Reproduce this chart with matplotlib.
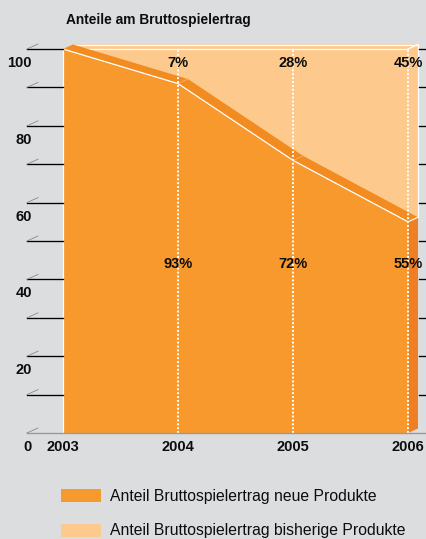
import matplotlib
matplotlib.use("Agg")
import matplotlib.pyplot as plt
from matplotlib.patches import Polygon, Rectangle
import numpy as np

# ---- data ----
years = [2003, 2004, 2005, 2006]
share_new = [100, 91, 71, 55]          # plotted front edge of "neue Produkte" area
labels_new = ["93%", "72%", "55%"]      # printed labels (2004-2006)
labels_old = ["7%", "28%", "45%"]
y_ticks = list(range(0, 101, 10))
y_ticklabels = {0: "0", 20: "20", 40: "40", 60: "60", 80: "80", 100: "100"}
title = "Anteile am Bruttospielertrag"
legend_labels = ["Anteil Bruttospielertrag neue Produkte",
                 "Anteil Bruttospielertrag bisherige Produkte"]

# ---- style ----
BG = "#dcdddf"
DARK = "#f7992d"
DARK_TOP = "#f28b20"
DARK_SIDE = "#ef7f22"
LIGHT = "#fec98c"
FONT = "Liberation Sans"
TXT = "#0d0d0d"

W, H = 426, 539
fig = plt.figure(figsize=(W / 100, H / 100), dpi=100, facecolor=BG)
ax_l, ax_r, ax_t, ax_b = 63, 408, 49, 433
ax = fig.add_axes([ax_l / W, (H - ax_b) / H, (ax_r - ax_l) / W, (ax_b - ax_t) / H])
ax.set_xlim(years[0], years[-1])
ax.set_ylim(0, 100)
ax.axis("off")
ax.set_facecolor(BG)

px_x = (years[-1] - years[0]) / (ax_r - ax_l)
px_y = 100 / (ax_b - ax_t)
dx, dy = 10 * px_x, 4.5 * px_y

x = np.array(years, dtype=float)
yn = np.array(share_new, dtype=float)
top = 100.0

# light (bisherige) block: front face + top + right side
light_pts = [(x[0], top), (x[0] + dx, top + dy), (x[-1] + dx, top + dy),
             (x[-1] + dx, yn[-1] + dy), (x[-1], yn[-1])]
light_pts += [(xi, yi) for xi, yi in zip(x[::-1], yn[::-1])]
ax.add_patch(Polygon(light_pts, closed=True, fc=LIGHT, ec="none", clip_on=False, zorder=1))
# white edges of light block
ax.plot([x[0] + dx, x[-1] + dx], [top + dy, top + dy], color="white", lw=0.9, clip_on=False, zorder=2)
ax.plot([x[0], x[-1]], [top, top], color="white", lw=0.9, clip_on=False, zorder=2)
ax.plot([x[-1] + dx, x[-1] + dx], [yn[-1] + dy, top + dy], color="white", lw=0.9, clip_on=False, zorder=2)
ax.plot([x[-1], x[-1] + dx], [top, top + dy], color="white", lw=0.9, clip_on=False, zorder=2)

# dark top strip
strip = [(xi, yi) for xi, yi in zip(x, yn)] + [(xi + dx, yi + dy) for xi, yi in zip(x[::-1], yn[::-1])]
ax.add_patch(Polygon(strip, closed=True, fc=DARK_TOP, ec="none", clip_on=False, zorder=3))
for xi, yi in zip(x[1:-1], yn[1:-1]):
    ax.plot([xi, xi + dx], [yi, yi + dy], color="#fbb060", lw=0.6, clip_on=False, zorder=3.5)

# dark side face
ax.add_patch(Polygon([(x[-1], 0), (x[-1], yn[-1]), (x[-1] + dx, yn[-1] + dy), (x[-1] + dx, dy)],
                     closed=True, fc=DARK_SIDE, ec="none", clip_on=False, zorder=3))
ax.plot([x[-1], x[-1] + dx], [yn[-1], yn[-1] + dy], color="white", lw=0.8, clip_on=False, zorder=3.5)

# dark front face
ax.fill_between(x, 0, yn, color=DARK, lw=0, zorder=4, clip_on=False)
ax.plot(x, yn, color="white", lw=0.9, zorder=5, clip_on=False)
ax.plot([x[0], x[0]], [0, yn[0]], color="white", lw=0.9, zorder=5, clip_on=False)

# dotted verticals
for xi in x[1:]:
    ax.plot([xi, xi], [0, top], color="white", lw=1.4, linestyle=(0, (1, 1)), zorder=6, clip_on=False)

# ticks (left / right) and slashes
ytr = ax.get_yaxis_transform()
xl0, xl1 = (27 - ax_l) / (ax_r - ax_l), 0.0
xs1 = (38 - ax_l) / (ax_r - ax_l)
xr0, xr1 = (419 - ax_l) / (ax_r - ax_l), (426 - ax_l) / (ax_r - ax_l)
for v in y_ticks:
    if v == 0:
        ax.plot([xl0, xr1], [0, 0], color="#9a9a9a", lw=1.0, transform=ytr, clip_on=False, zorder=7)
    else:
        ax.plot([xl0, xl1], [v, v], color="black", lw=0.95, transform=ytr, clip_on=False, zorder=7)
        ax.plot([xr0, xr1], [v, v], color="black", lw=0.95, transform=ytr, clip_on=False, zorder=7)
    ax.plot([xl0, xs1], [v, v + 5 * px_y], color="#8a8a8a", lw=0.6, transform=ytr, clip_on=False, zorder=7)

lab_dy = 18 * px_y
xlab = (32 - ax_l) / (ax_r - ax_l)
for v, s in y_ticklabels.items():
    ax.text(xlab, v - lab_dy, s, transform=ytr, ha="right", va="baseline",
            fontsize=10.5, fontweight="bold", family=FONT, color=TXT)
for xi in years:
    ax.text(xi, -lab_dy, str(xi), ha="center", va="baseline",
            fontsize=10.5, fontweight="bold", family=FONT, color=TXT)

# percentage labels
for xi, s in zip(years[1:], labels_old):
    ax.text(xi, 100 - 18 * px_y, s, ha="center", va="baseline",
            fontsize=10.5, fontweight="bold", family=FONT, color=TXT, zorder=8)
for xi, s in zip(years[1:], labels_new):
    ax.text(xi, (ax_b - 268) * px_y, s, ha="center", va="baseline",
            fontsize=10.5, fontweight="bold", family=FONT, color=TXT, zorder=8)

# title
fig.text(66 / W, 1 - 24 / H, title, ha="left", va="baseline",
         fontsize=9.9, fontweight="bold", family=FONT, color=TXT)

# legend
for (y0, y1, yb), c, s in zip([(489, 502, 501), (524, 537, 535)], [DARK, LIGHT], legend_labels):
    fig.add_artist(Rectangle((61 / W, 1 - y1 / H), 40 / W, (y1 - y0) / H,
                             transform=fig.transFigure, fc=c, ec="none"))
    fig.text(110 / W, 1 - yb / H, s, ha="left", va="baseline",
             fontsize=11.3, family=FONT, color=TXT)

fig.savefig("out.png", dpi=100, facecolor=BG)
